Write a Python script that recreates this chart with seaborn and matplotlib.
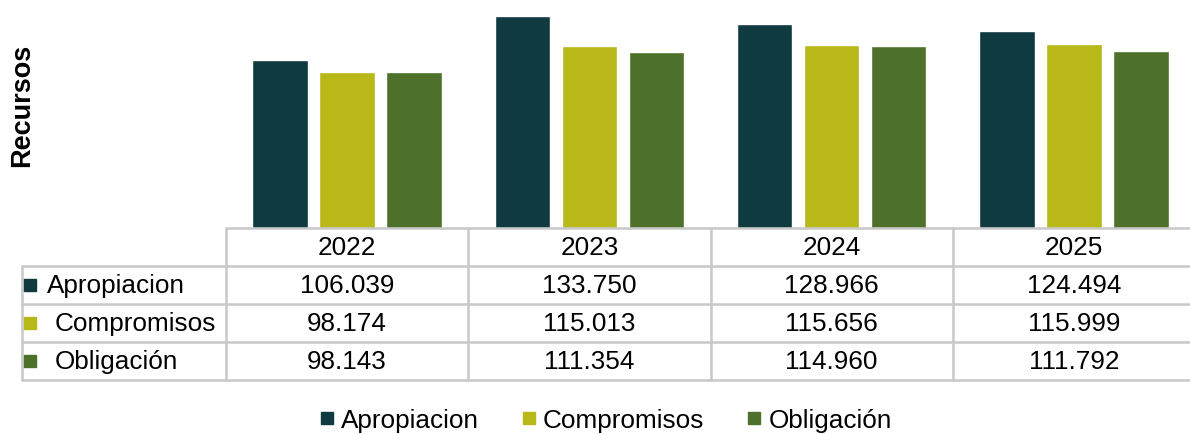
import matplotlib
matplotlib.use("Agg")
import matplotlib.pyplot as plt
from matplotlib.lines import Line2D
import seaborn as sns
import pandas as pd

# Budget execution by year (millions)
years = ["2022", "2023", "2024", "2025"]
series = ["Apropiacion", "Compromisos", "Obligación"]
apropiacion = [106.039, 133.750, 128.966, 124.494]
compromisos = [98.174, 115.013, 115.656, 115.999]
obligacion = [98.143, 111.354, 114.960, 111.792]
colors = ["#0F3A40", "#B8B818", "#4D702A"]

values = {"Apropiacion": apropiacion, "Compromisos": compromisos, "Obligación": obligacion}
df = pd.DataFrame(
    [{"Año": y, "Serie": s, "Valor": values[s][i]} for s in series for i, y in enumerate(years)]
)

sns.set_theme(style="white")
plt.rcParams["font.family"] = ["Liberation Sans", "DejaVu Sans"]
plt.rcParams["text.color"] = "black"

W, H = 1190, 435
fig = plt.figure(figsize=(W / 100, H / 100), dpi=100)

def px_axes(x0, y0, x1, y1):
    return fig.add_axes([x0 / W, 1 - y1 / H, (x1 - x0) / W, (y1 - y0) / H])

# Bars
ax = px_axes(226, 10, 1195, 229)
sns.barplot(data=df, x="Año", y="Valor", hue="Serie", hue_order=series,
            palette=colors, width=0.83, gap=0.17, saturation=1, ax=ax, legend=False)
ax.set_xlim(-0.5, 3.5)
ax.set_ylim(0, 138.2)
ax.set_axis_off()

# Data table under the bars
tab = px_axes(22, 229, 1195, 381)
left = -0.5 - 204 / 242.25
tab.set_xlim(left, 3.5)
tab.set_ylim(4, 0)
tab.set_axis_off()
gc = "#C8C8C8"
lw = 1.8
# horizontal rules
tab.plot([-0.5, 3.5], [0, 0], color=gc, lw=lw, clip_on=False)
for r in (1, 2, 3, 4):
    tab.plot([left, 3.5], [r, r], color=gc, lw=lw, clip_on=False)
# vertical rules
tab.plot([left, left], [1, 4], color=gc, lw=lw, clip_on=False)
for c in range(4):
    tab.plot([c - 0.5, c - 0.5], [0, 4], color=gc, lw=lw, clip_on=False)

fs = 18.8
for i, y in enumerate(years):
    tab.text(i, 0.5, y, ha="center", va="center", fontsize=fs, color="black")
text_x = [left + 25 / 242.25, left + 33 / 242.25, left + 33 / 242.25]
for r, s in enumerate(series):
    tab.plot([left + 8 / 242.25], [r + 1.5], marker="s", markersize=8,
             color=colors[r], clip_on=False, linestyle="none")
    tab.text(text_x[r], r + 1.5, s, ha="left", va="center", fontsize=fs, color="black")
    for i, v in enumerate(values[s]):
        tab.text(i, r + 1.5, f"{v:.3f}", ha="center", va="center", fontsize=fs, color="black")

# Axis title
fig.text(22 / W, 1 - 105 / H, "Recursos", rotation=90, ha="center", va="center",
         fontsize=19.5, fontweight="bold", color="black")

# Legend
handles = [Line2D([], [], marker="s", linestyle="none", markersize=9, color=c) for c in colors]
fig.legend(handles, series, loc="center", bbox_to_anchor=(604 / W, 1 - 421 / H),
           ncol=3, frameon=False, fontsize=fs, handletextpad=0.15,
           columnspacing=1.5, handlelength=0.8, labelcolor="black")

fig.savefig("out.png", dpi=100)
